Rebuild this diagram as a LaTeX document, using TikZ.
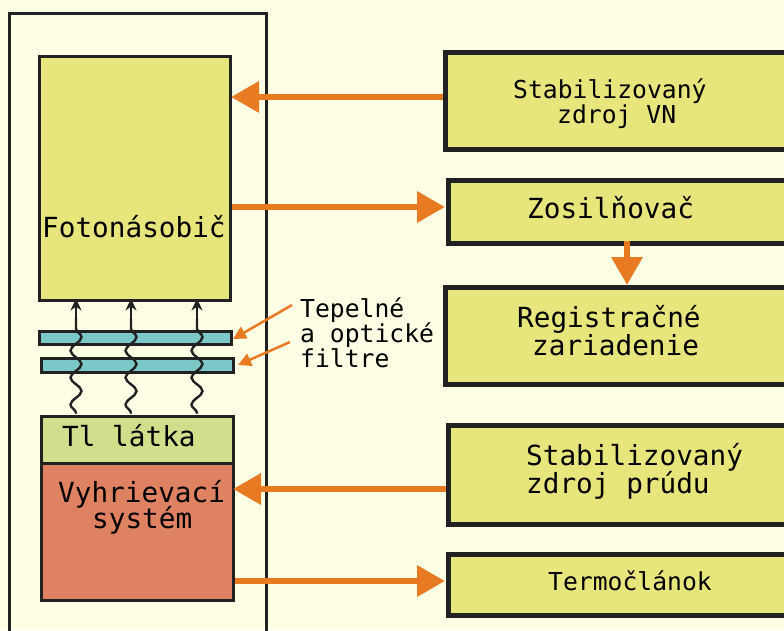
\documentclass[tikz,border=0pt]{standalone}
\usepackage{fontspec}
\setmonofont{DejaVu Sans Mono}
\usetikzlibrary{arrows.meta,decorations.pathmorphing}
\definecolor{bg}{HTML}{FFFFE6}
\definecolor{boxyellow}{HTML}{E6E67C}
\definecolor{tlgreen}{HTML}{CFDF8C}
\definecolor{heatred}{HTML}{DE8262}
\definecolor{filtercyan}{HTML}{7CC8C8}
\definecolor{arrorange}{HTML}{E87A22}
\definecolor{frame}{HTML}{222222}
\tikzset{
  blk/.style={draw=frame, line width=3pt, anchor=north west, inner sep=0pt},
  rbox/.style={draw=frame, line width=5pt, fill=boxyellow, anchor=north west, inner sep=0pt},
  big/.style={font=\ttfamily\fontsize{27.7}{28}\selectfont, anchor=base west, inner sep=0pt},
  small/.style={font=\ttfamily\fontsize{24.7}{25}\selectfont, anchor=base west, inner sep=0pt},
  fat/.style={draw=arrorange, line width=6.5pt, -{Triangle[length=28pt,width=30pt]}},
  thin/.style={draw=arrorange, line width=2.5pt, -{Triangle[length=13pt,width=13pt]}},
  wave/.style={draw=frame, line width=2.4pt, line cap=round, decorate, decoration={snake, amplitude=5.5pt, segment length=27pt}},
  ray/.style={draw=frame, line width=2.4pt, -{Stealth[length=12pt,width=11pt]}}
}
\begin{document}
\begin{tikzpicture}[x=1pt,y=-1pt]
\clip (0,0) rectangle (784,630);
\fill[bg] (0,0) rectangle (784,630);
% outer frame
\draw[draw=frame, line width=3pt] (9,650) -- (9,13) -- (266,13) -- (266,650);
% left stack
\node[blk, fill=boxyellow, minimum width=191pt, minimum height=244pt] (foto) at (38,55) {};
\node[blk, fill=filtercyan, minimum width=192pt, minimum height=13pt] (f1) at (38,330) {};
\node[blk, fill=filtercyan, minimum width=192pt, minimum height=14pt] (f2) at (40,357) {};
\node[blk, fill=tlgreen, minimum width=192pt, minimum height=47pt] (tl) at (40,415) {};
\node[blk, fill=heatred, minimum width=192pt, minimum height=137pt] (heat) at (40,462) {};
% waves
\foreach \i/\x in {1/76,2/131,3/197}{
  \coordinate (ws\i) at (\x,413);
  \coordinate (we\i) at (\x,318);
  \coordinate (wt\i) at (\x,298.5);
  \draw[wave] (ws\i) -- (we\i);
  \draw[ray] (we\i) -- (wt\i);
}
% right boxes
\node[rbox, minimum width=360pt, minimum height=97pt] (vn) at (443,50) {};
\node[rbox, minimum width=360pt, minimum height=63pt] (zos) at (446,178) {};
\node[rbox, minimum width=360pt, minimum height=97pt] (reg) at (443,285) {};
\node[rbox, minimum width=360pt, minimum height=99pt] (prud) at (446,423) {};
\node[rbox, minimum width=360pt, minimum height=61pt] (termo) at (446,552) {};
% texts
\node[big] (tfoto) at (42,237) {Fotonásobič};
\node[big] (ttl) at (62,446) {Tl látka};
\node[big] (tvy1) at (58,502) {Vyhrievací};
\node[big] (tvy2) at (92,528) {systém};
\node[small] (tf1) at (300,317) {Tepelné};
\node[small] (tf2) at (300,342) {a optické};
\node[small] (tf3) at (300,367) {filtre};
\node[small] (tvn1) at (513,98) {Stabilizovaný};
\node[small] (tvn2) at (557,123) {zdroj VN};
\node[big] (tzos) at (527,218) {Zosilňovač};
\node[big] (treg1) at (517,327) {Registračné};
\node[big] (treg2) at (532,355) {zariadenie};
\node[big] (tpr1) at (526,465) {Stabilizovaný};
\node[big] (tpr2) at (526,493) {zdroj prúdu};
\node[small] (tter) at (548,590) {Termočlánok};
% connectors
\draw[fat] (vn.west |- 0,97) -- (231,97);
\draw[fat] (foto.east |- 0,207) -- (445,207);
\draw[fat] (627,241) -- (627,285);
\draw[fat] (prud.west |- 0,489) -- (233,489);
\draw[fat] (heat.east |- 0,581) -- (445,581);
\coordinate (l1) at (292,305);
\coordinate (l2) at (290,342);
\draw[thin] (l1) -- (233,339);
\draw[thin] (l2) -- (238,365);
\end{tikzpicture}
\end{document}
